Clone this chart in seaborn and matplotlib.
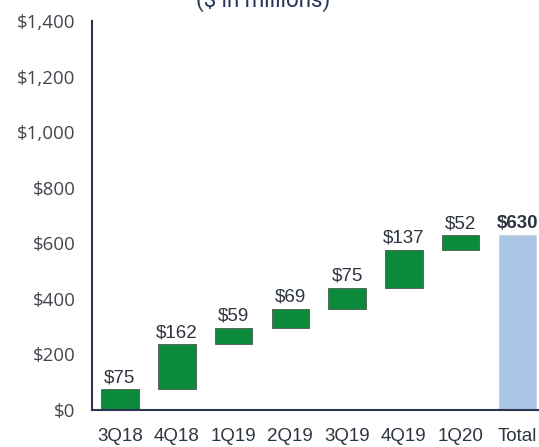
import matplotlib
matplotlib.use("Agg")
import matplotlib.pyplot as plt
import seaborn as sns
import numpy as np

quarters = ["3Q18", "4Q18", "1Q19", "2Q19", "3Q19", "4Q19", "1Q20", "Total"]
increments = [75, 162, 59, 69, 75, 137, 52]
total = 630

heights = increments + [total]
bottoms = list(np.cumsum([0] + increments[:-1])) + [0]
labels = ["$%d" % v for v in heights]

sns.set_style("white")
plt.rcParams["font.family"] = ["Liberation Sans", "DejaVu Sans"]

fig = plt.figure(figsize=(5.39, 4.47), dpi=100)
ax = fig.add_axes([0.171, 0.083, 0.829, 0.870])

green = "#0b8a3c"
blue = "#abc6e6"
sns.barplot(x=quarters, y=heights, bottom=bottoms, color=green, saturation=1,
            width=0.66, edgecolor="#4a5a4a", linewidth=0.6, ax=ax)
ax.patches[-1].set_facecolor(blue)
ax.patches[-1].set_edgecolor("#c8d2dc")

for i, p in enumerate(ax.patches):
    top = bottoms[i] + heights[i]
    ax.annotate(labels[i], (p.get_x() + p.get_width() / 2, top),
                xytext=(0, 2), textcoords="offset points", ha="center", va="bottom",
                fontsize=13.5, color="#2e3440",
                fontweight="bold" if i == len(heights) - 1 else "normal")

ax.set_ylim(0, 1400)
ax.set_xlim(-0.49, 7.38)
ax.set_yticks(range(0, 1401, 200))
ax.set_yticklabels(["${:,}".format(v) for v in range(0, 1401, 200)],
                   fontsize=13.5, color="#44474f", family=["Open Sans", "DejaVu Sans"])
ax.tick_params(axis="x", labelsize=13.5, colors="#2e3440", length=0, pad=13)
ax.tick_params(axis="y", length=0, pad=12)
ax.set_xlabel("")
ax.set_ylabel("")

sns.despine(ax=ax, top=True, right=True)
for s in ["left", "bottom"]:
    ax.spines[s].set_color("#2b3550")
    ax.spines[s].set_linewidth(1.5)

fig.text(0.488, 0.999, "($ in millions)", ha="center", va="center",
         fontsize=16, color="#27345a", family=["Roboto", "DejaVu Sans"])

fig.savefig("out.png", dpi=100)
